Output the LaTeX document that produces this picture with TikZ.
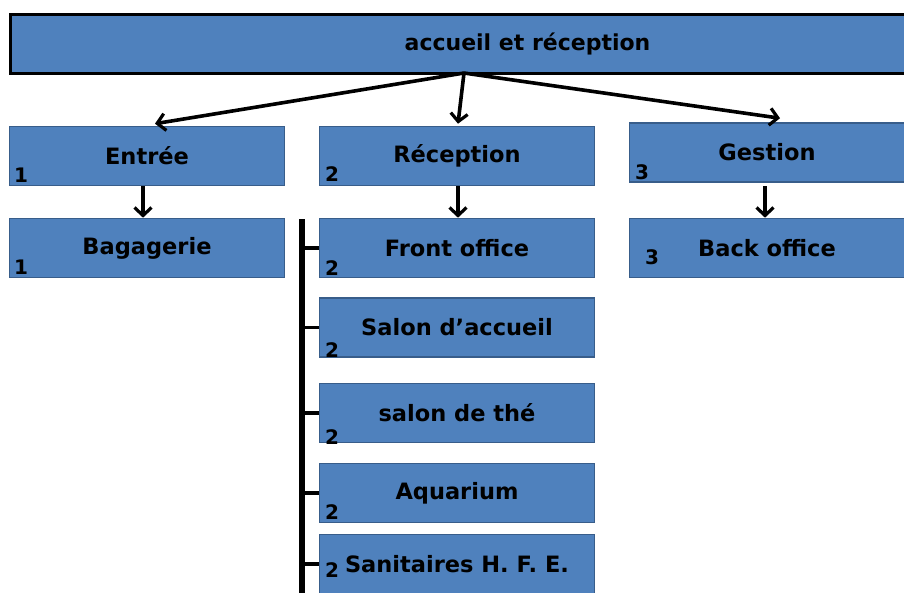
\documentclass[tikz,border=0pt]{standalone}
\usepackage{fontspec}
\setmainfont{DejaVu Sans}
\usetikzlibrary{arrows.meta}
\definecolor{boxblue}{HTML}{4F81BD}
\definecolor{boxedge}{HTML}{385D8A}
\tikzset{
  unit/.style={draw=boxedge, line width=1.6pt, fill=boxblue, minimum width=275pt,
    minimum height=59pt, inner sep=0pt, font=\fontsize{22.5}{23}\selectfont\bfseries},
  num/.style={inner sep=0pt, font=\fontsize{20}{21}\selectfont\bfseries},
  link/.style={line width=3.6pt, -{Straight Barb[length=8pt,width=17pt,line width=3.2pt]}},
  bar/.style={line width=5.5pt},
  tick/.style={line width=3.8pt}
}
\begin{document}
\begin{tikzpicture}[x=1pt,y=-1pt]
  \useasboundingbox (0,0) rectangle (904,592);

  \node[draw=black, line width=3pt, fill=boxblue, minimum width=1035pt, minimum height=59pt,
    font=\fontsize{22}{24}\selectfont\bfseries] (top) at (527.5,43.5) {accueil et réception};
  \coordinate (fork) at (464,73);

  % first column
  \node[unit] (entree) at (147,156) {Entrée};
  \node[unit] (bagage) at (147,248) {Bagagerie};
  \node[num] (n1a) at (21,175) {1};
  \node[num] (n1b) at (21,267) {1};

  % second column
  \node[unit] (recep) at (457,156) {Réception};
  \node[unit] (front) at (457,248) {Front office};
  \node[unit] (salon) at (457,327.5) {Salon d’accueil};
  \node[unit] (the) at (457,413) {salon de thé};
  \node[unit] (aqua) at (457,493) {Aquarium};
  \node[unit] (sanit) at (457,564) {Sanitaires H. F. E.};
  \node[num] (n2a) at (332,174) {2};
  \node[num] (n2b) at (332,268) {2};
  \node[num] (n2c) at (332,350) {2};
  \node[num] (n2d) at (332,437) {2};
  \node[num] (n2e) at (332,512) {2};
  \node[num] (n2f) at (332,570) {2};

  % third column
  \node[unit] (gestion) at (767,152.5) {Gestion};
  \node[unit] (back) at (767,248) {Back office};
  \node[num] (n3a) at (642,172) {3};
  \node[num] (n3b) at (652,257) {3};

  \draw[link] (fork) -- ([xshift=8pt,yshift=2pt]entree.north);
  \draw[link] (fork) -- ([xshift=1pt,yshift=2pt]recep.north);
  \draw[link] (fork) -- ([xshift=13pt,yshift=4pt]gestion.north);

  \coordinate (gdown) at (765,186);
  \draw[link] ([xshift=-4pt]entree.south) -- ([xshift=-4pt]bagage.north);
  \draw[link] ([xshift=1pt]recep.south) -- ([xshift=1pt]front.north);
  \draw[link] (gdown) -- (gdown |- back.north);

  \coordinate (bartop) at (302,219);
  \coordinate (barend) at (302,600);
  \draw[bar] (bartop) -- (barend);
  \foreach \b in {front,salon,the,aqua,sanit}
    \draw[tick] (\b.west) -- (\b.west -| bartop);
\end{tikzpicture}
\end{document}
